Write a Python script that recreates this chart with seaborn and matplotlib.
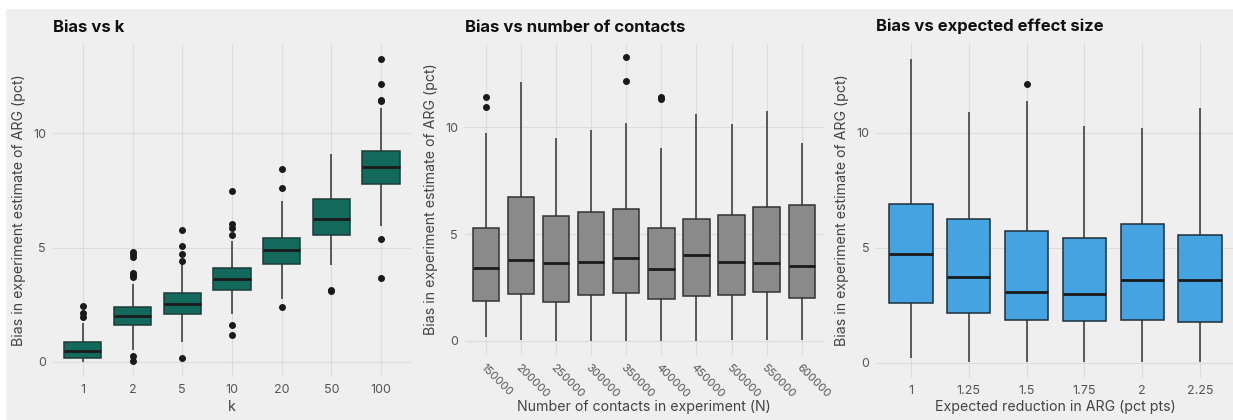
import matplotlib
matplotlib.use("Agg")
import matplotlib.pyplot as plt
import seaborn as sns
import pandas as pd

# ---- panel 1: bias vs k  (box stats)
k_cats = ["1", "2", "5", "10", "20", "50", "100"]
k_lo = [0.0, 0.5, 0.87, 2.1, 2.77, 4.23, 5.95]
k_q1 = [0.15, 1.6, 2.1, 3.15, 4.3, 5.55, 7.78]
k_med = [0.47, 2.01, 2.52, 3.62, 4.9, 6.27, 8.53]
k_q3 = [0.85, 2.42, 3.0, 4.1, 5.42, 7.11, 9.2]
k_hi = [1.7, 3.4, 4.3, 5.3, 7.03, 9.11, 11.08]
k_out = [[1.95, 2.15, 2.45],
         [0.25, 0.03, 3.7, 3.8, 3.9, 4.6, 4.7, 4.8],
         [0.16, 4.4, 4.7, 5.07, 5.76],
         [1.63, 1.18, 5.55, 5.86, 6.05, 7.49],
         [2.4, 7.6, 8.43],
         [3.15, 3.08],
         [5.38, 3.66, 11.4, 11.45, 12.14, 13.25]]

# ---- panel 2: bias vs number of contacts
n_cats = ["150000", "200000", "250000", "300000", "350000",
          "400000", "450000", "500000", "550000", "600000"]
n_lo = [0.16, 0.06, 0.0, 0.0, 0.0, 0.0, 0.0, 0.03, 0.03, 0.03]
n_q1 = [1.88, 2.2, 1.83, 2.14, 2.23, 1.97, 2.08, 2.16, 2.28, 2.0]
n_med = [3.42, 3.8, 3.67, 3.69, 3.88, 3.38, 4.02, 3.69, 3.64, 3.52]
n_q3 = [5.27, 6.73, 5.84, 6.03, 6.16, 5.28, 5.73, 5.88, 6.28, 6.34]
n_hi = [9.75, 12.14, 9.48, 9.86, 10.22, 9.02, 10.64, 10.16, 10.77, 9.27]
n_out = [[10.94, 11.41], [], [], [], [12.16, 13.27],
         [11.34, 11.41], [], [], [], []]

# ---- panel 3: bias vs expected effect size
e_cats = ["1", "1.25", "1.5", "1.75", "2", "2.25"]
e_lo = [0.19, 0.04, 0.04, 0.05, 0.05, 0.05]
e_q1 = [2.59, 2.17, 1.86, 1.8, 1.88, 1.78]
e_med = [4.75, 3.74, 3.07, 3.0, 3.59, 3.61]
e_q3 = [6.91, 6.25, 5.75, 5.43, 6.04, 5.55]
e_hi = [13.2, 10.88, 11.38, 10.3, 10.19, 11.06]
e_out = [[], [], [12.12], [], [], []]


def long_frame(cats, lo, q1, med, q3, hi, outs):
    # repeat the read quartiles so the computed box matches them
    rows = []
    for i, c in enumerate(cats):
        vals = [lo[i], hi[i]] + [q1[i]] * 20 + [med[i]] * 20 + [q3[i]] * 20 + outs[i]
        rows += [(c, v) for v in vals]
    return pd.DataFrame(rows, columns=["cat", "bias"])


sns.set_theme(style="whitegrid")
plt.rcParams["font.family"] = ["Inter", "DejaVu Sans"]

BG = "#efefef"
fig = plt.figure(figsize=(12.33, 4.2), dpi=100, facecolor=BG)
# thin white strips at top and left edge, as in the screenshot
fig.patches.append(plt.Rectangle((0, 1 - 8 / 420), 1, 8 / 420,
                                 transform=fig.transFigure, color="white", zorder=-1))
fig.patches.append(plt.Rectangle((0, 0), 5 / 1233, 1,
                                 transform=fig.transFigure, color="white", zorder=-1))

panels = [
    (k_cats, k_lo, k_q1, k_med, k_q3, k_hi, k_out, "#13695b", "#1c3d37",
     "Bias vs k", "k", [53, 44, 410.8, 377]),
    (n_cats, n_lo, n_q1, n_med, n_q3, n_hi, n_out, "#8a8a8a", "#333333",
     "Bias vs number of contacts", "Number of contacts in experiment (N)", [465, 44, 822.7, 355]),
    (e_cats, e_lo, e_q1, e_med, e_q3, e_hi, e_out, "#46a3e2", "#1f2f3a",
     "Bias vs expected effect size", "Expected reduction in ARG (pct pts)", [876.3, 43, 1234.7, 378]),
]

for cats, lo, q1, med, q3, hi, outs, fill, edge, title, xlab, box in panels:
    x0, y0, x1, y1 = box
    ax = fig.add_axes([x0 / 1233, 1 - y1 / 420, (x1 - x0) / 1233, (y1 - y0) / 420])
    ax.set_facecolor(BG)
    df = long_frame(cats, lo, q1, med, q3, hi, outs)
    sns.boxplot(data=df, x="cat", y="bias", order=cats, ax=ax, color=fill,
                saturation=1, width=0.75, linecolor=edge, linewidth=1.1,
                medianprops=dict(color="#1a1a1a", linewidth=2.0),
                whiskerprops=dict(color="#333333", linewidth=1.1),
                capprops=dict(linewidth=0),
                flierprops=dict(marker="o", markerfacecolor="#1a1a1a",
                                markeredgecolor="#1a1a1a", markersize=4))
    ax.set_ylim(-0.66, 13.9)
    ax.set_xlim(-0.6, len(cats) - 0.4)
    ax.set_yticks([0, 5, 10])
    ax.grid(True, color="#dcdcdc", linewidth=0.8)
    ax.set_axisbelow(True)
    for s in ax.spines.values():
        s.set_visible(False)
    ax.tick_params(length=0, labelsize=9, colors="#555555", pad=5)
    ax.set_title(title, loc="left", fontsize=12, fontweight="bold", color="#111111", pad=9)
    ax.set_xlabel(xlab, fontsize=10.2, color="#444444", va="center")
    # x label centred at y = 407 px in the figure
    ax.xaxis.set_label_coords(0.5, (y1 - 407) / (y1 - y0))
    ax.set_ylabel("Bias in experiment estimate of ARG (pct)", fontsize=10.2,
                  color="#444444", labelpad=5)
    if cats is n_cats:
        for lab in ax.get_xticklabels():
            lab.set_rotation(-45)
            lab.set_ha("left")
            lab.set_rotation_mode("anchor")
            lab.set_fontsize(8.2)

fig.savefig("out.png", dpi=100, facecolor=fig.get_facecolor())
